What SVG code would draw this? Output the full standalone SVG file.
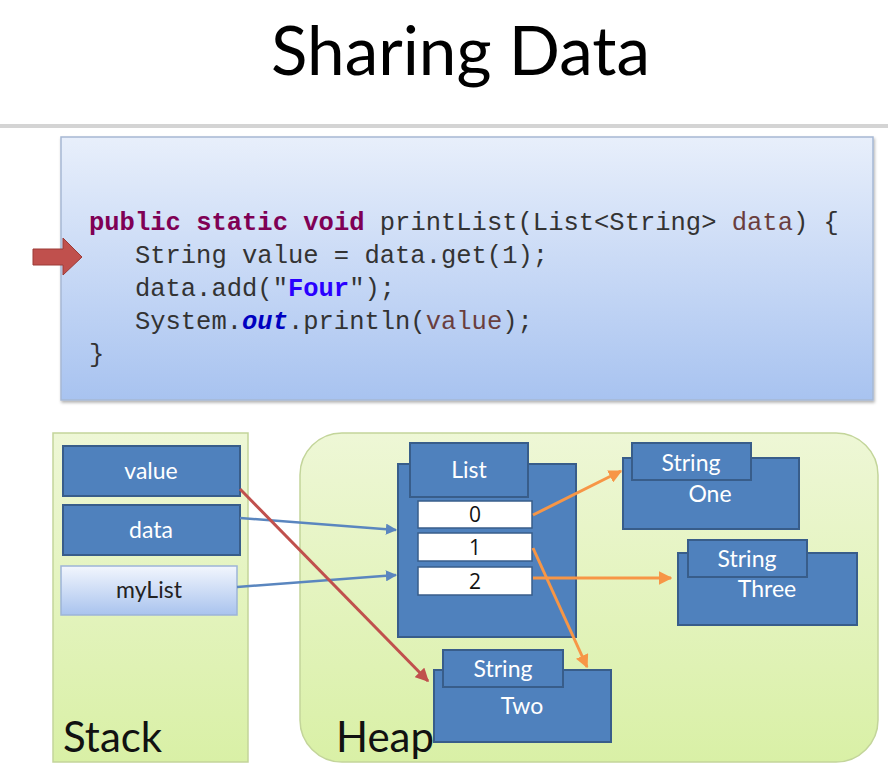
<svg xmlns="http://www.w3.org/2000/svg" width="888" height="780" viewBox="0 0 888 780">
<style>
.title{font-family:Lato,"Open Sans",sans-serif;font-size:68px;fill:#000}
.code{font-family:"Liberation Mono","DejaVu Sans Mono",monospace;font-size:25.5px;fill:#333}
.kw{fill:#7f0055;font-weight:bold}
.var{fill:#6a3e3e}
.str{fill:#2a00ff;font-weight:bold}
.fld{fill:#0000c0;font-weight:bold;font-style:italic}
.box{fill:#4f81bd;stroke:#385d8a;stroke-width:2}
.lbl{font-family:Lato,"Open Sans",sans-serif;font-size:23px;fill:#fff;text-anchor:middle}
.dlbl{font-family:Lato,"Open Sans",sans-serif;font-size:23px;fill:#222;text-anchor:middle}
.num{font-family:"Open Sans",Lato,sans-serif;font-size:21px;fill:#111;text-anchor:middle}
.slot{fill:#fff;stroke:#385d8a;stroke-width:1.5}
.area{font-family:Lato,"Open Sans",sans-serif;font-size:42px;fill:#111}
.blue{stroke:#5a86bf;stroke-width:2.5;fill:none}
.red{stroke:#c0504d;stroke-width:3;fill:none}
.orange{stroke:#f79646;stroke-width:3;fill:none}
</style>
<defs>
<linearGradient id="codeg" x1="0" y1="0" x2="0" y2="1">
<stop offset="0" stop-color="#e8effb"/>
<stop offset="1" stop-color="#a8c3f0"/>
</linearGradient>
<linearGradient id="greeng" x1="0" y1="0" x2="0" y2="1">
<stop offset="0" stop-color="#eef7d6"/>
<stop offset="1" stop-color="#d9f0a6"/>
</linearGradient>
<linearGradient id="lightg" x1="0" y1="0" x2="0" y2="1">
<stop offset="0" stop-color="#f2f6fd"/>
<stop offset="1" stop-color="#a9c3ee"/>
</linearGradient>
<marker id="ab" viewBox="0 0 10 10" refX="9" refY="5" markerWidth="4.5" markerHeight="4.5" orient="auto" markerUnits="strokeWidth"><path d="M0,0 L10,5 L0,10 z" fill="#5a86bf"/></marker>
<marker id="ar" viewBox="0 0 10 10" refX="9" refY="5" markerWidth="4.5" markerHeight="4.5" orient="auto" markerUnits="strokeWidth"><path d="M0,0 L10,5 L0,10 z" fill="#c0504d"/></marker>
<marker id="ao" viewBox="0 0 10 10" refX="9" refY="5" markerWidth="4.5" markerHeight="4.5" orient="auto" markerUnits="strokeWidth"><path d="M0,0 L10,5 L0,10 z" fill="#f79646"/></marker>
<filter id="sh" x="-5%" y="-5%" width="110%" height="115%"><feDropShadow dx="1" dy="2" stdDeviation="1.5" flood-color="#000" flood-opacity="0.3"/></filter>
</defs>
<rect width="888" height="780" fill="#fff"/>
<text class="title" x="271" y="75" textLength="379" lengthAdjust="spacingAndGlyphs">Sharing Data</text>
<rect x="0" y="124" width="888" height="4" fill="#d4d4d4"/>

<g id="code">
<rect x="61" y="137" width="812" height="263" fill="url(#codeg)" stroke="#a6b8d4" stroke-width="1.5" filter="url(#sh)"/>
<text class="code" xml:space="preserve"><tspan x="89" y="230"><tspan class="kw">public</tspan> <tspan class="kw">static</tspan> <tspan class="kw">void</tspan> printList(List&lt;String&gt; <tspan class="var">data</tspan>) {</tspan><tspan x="89" y="263">   String value = data.get(1);</tspan><tspan x="89" y="296">   data.add("<tspan class="str">Four</tspan>");</tspan><tspan x="89" y="329">   System.<tspan class="fld">out</tspan>.println(<tspan class="var">value</tspan>);</tspan><tspan x="89" y="362">}</tspan></text>
</g>
<g id="pointer">
<path d="M33,249 L63,249 L63,238 L82,257 L63,275 L63,265 L33,265 Z" fill="#c0504d" stroke="#9c3a37" stroke-width="1"/>
</g>

<g id="stack">
<rect x="53" y="433" width="195" height="329" fill="url(#greeng)" stroke="#c3d59a" stroke-width="1.5"/>
<text class="area" x="63" y="752">Stack</text>
</g>
<g id="heap">
<rect x="300" y="433" width="578" height="329" rx="42" fill="url(#greeng)" stroke="#c3d59a" stroke-width="1.5"/>
</g>

<g id="value">
<rect class="box" x="63" y="446" width="177" height="50"/>
<text class="lbl" x="151" y="479">value</text>
</g>
<g id="data">
<rect class="box" x="63" y="505" width="177" height="50"/>
<text class="lbl" x="151" y="538">data</text>
</g>
<g id="myList">
<rect x="61" y="566" width="176" height="49" fill="url(#lightg)" stroke="#9db4d8" stroke-width="1.5"/>
<text class="dlbl" x="149" y="598">myList</text>
</g>

<g id="list">
<rect class="box" x="398" y="464" width="178" height="173"/>
<rect class="box" x="410" y="443" width="118" height="54"/>
<text class="lbl" x="469" y="478">List</text>
<rect class="slot" x="418" y="501" width="114" height="27"/>
<text class="num" x="475" y="522">0</text>
<rect class="slot" x="418" y="533" width="114" height="28"/>
<text class="num" x="475" y="555">1</text>
<rect class="slot" x="418" y="567" width="114" height="28"/>
<text class="num" x="475" y="589">2</text>
</g>

<g id="stringOne">
<rect class="box" x="623" y="458" width="176" height="71"/>
<rect class="box" x="632" y="443" width="119" height="37"/>
<text class="lbl" x="691" y="471">String</text>
<text class="lbl" x="710" y="502">One</text>
</g>
<g id="stringThree">
<rect class="box" x="678" y="553" width="179" height="72"/>
<rect class="box" x="688" y="540" width="119" height="37"/>
<text class="lbl" x="747" y="567">String</text>
<text class="lbl" x="767" y="597">Three</text>
</g>
<g id="stringTwo">
<rect class="box" x="434" y="670" width="177" height="72"/>
<rect class="box" x="443" y="650" width="120" height="37"/>
<text class="lbl" x="503" y="677">String</text>
<text class="lbl" x="522" y="714">Two</text>
</g>

<text class="area" x="336" y="752">Heap</text>

<g id="connectors">
<path class="blue" d="M240,518 L396,530" marker-end="url(#ab)"/>
<path class="blue" d="M237,587 L396,575" marker-end="url(#ab)"/>
<path class="orange" d="M533,515 L621,471" marker-end="url(#ao)"/>
<path class="orange" d="M533,578 L671,578" marker-end="url(#ao)"/>
<path class="orange" d="M533,548 L587,667" marker-end="url(#ao)"/>
<path class="red" d="M240,489 L428,681" marker-end="url(#ar)"/>
</g>
</svg>
